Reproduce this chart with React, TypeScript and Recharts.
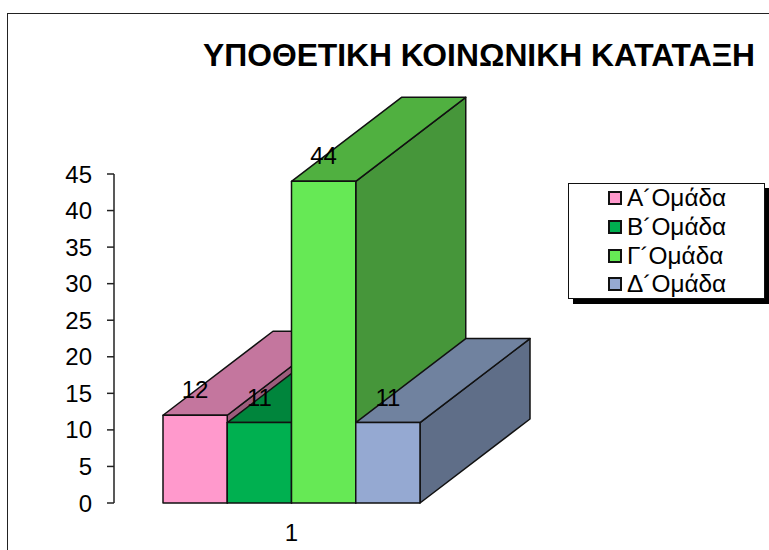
import { Bar, BarChart, LabelList, Legend, XAxis, YAxis } from "recharts";

const categories = ["1"];
const seriesNames = ["Α´Ομάδα", "Β´Ομάδα", "Γ´Ομάδα", "Δ´Ομάδα"];
const groupA = [12];
const groupB = [11];
const groupC = [44];
const groupD = [11];
const yTicks = [0, 5, 10, 15, 20, 25, 30, 35, 40, 45];
const title = "ΥΠΟΘΕΤΙΚΗ ΚΟΙΝΩΝΙΚΗ ΚΑΤΑΤΑΞΗ";

const fronts = ["#ff99cc", "#00b050", "#66e955", "#95a9d2"];
const tops = ["#c4769e", "#00853c", "#50b040", "#70829f"];
const sides = ["#9c5c7c", "#006a30", "#46963a", "#5f6e88"];

const table = categories.map((name, i) => ({
  name,
  a: groupA[i],
  b: groupB[i],
  c: groupC[i],
  d: groupD[i],
}));

const FONT = '"Liberation Sans", Arial, sans-serif';
const INK = "#111";
const DEPTH_X = 110;
const DEPTH_Y = 84;

const box3D = (index: number) => (props: any) => {
  const { x, y, width, height } = props;
  const r = x + width;
  const b = y + height;
  const dx = DEPTH_X;
  const dy = DEPTH_Y;
  return (
    <g stroke={INK} strokeWidth={1.5} strokeLinejoin="round">
      <polygon points={`${r},${y} ${r + dx},${y - dy} ${r + dx},${b - dy} ${r},${b}`} fill={sides[index]} />
      <polygon points={`${x},${y} ${x + dx},${y - dy} ${r + dx},${y - dy} ${r},${y}`} fill={tops[index]} />
      <rect x={x} y={y} width={width} height={height} fill={fronts[index]} />
    </g>
  );
};

const LegendBox = ({ payload }: any) => (
  <div
    style={{
      width: 197,
      height: 116,
      boxSizing: "border-box",
      background: "#fff",
      border: `1.5px solid ${INK}`,
      boxShadow: "5px 5px 0 #000",
      paddingLeft: 39,
      paddingTop: 0,
      fontFamily: FONT,
      fontSize: 24.4,
      color: "#000",
    }}
  >
    {(payload || []).map((item: any, i: number) => (
      <div key={item.value} style={{ display: "flex", alignItems: "center", height: 28.7 }}>
        <span
          style={{
            width: 14,
            height: 14,
            boxSizing: "border-box",
            border: `2px solid ${INK}`,
            background: fronts[i],
            marginRight: 5,
          }}
        />
        {item.value}
      </div>
    ))}
  </div>
);

export default function App() {
  const labelStyle = { fontFamily: FONT, fontSize: 24, fill: "#000" };
  return (
    <div style={{ position: "absolute", left: 0, top: 0, width: 769, height: 550, overflow: "hidden", background: "#fff" }}>
      <div
        style={{
          position: "absolute",
          left: 7,
          top: 13,
          width: 770,
          height: 540,
          border: "1.5px solid #222",
        }}
      />
      <BarChart
        width={769}
        height={550}
        data={table}
        margin={{ top: 174, right: 300, bottom: 0, left: 0 }}
        barSize={64.25}
        barGap={0}
      >
        <text x={203} y={66} fontFamily={FONT} fontSize={31.8} fontWeight="bold" fill="#000">
          {title}
        </text>
        <XAxis
          dataKey="name"
          axisLine={false}
          tickLine={false}
          height={47}
          tickMargin={15}
          tick={{ fontFamily: FONT, fontSize: 24, fill: "#000" }}
        />
        <YAxis
          width={114}
          domain={[0, 45]}
          ticks={yTicks}
          interval={0}
          tickSize={7}
          tickMargin={15}
          axisLine={{ stroke: "#222", strokeWidth: 1.5 }}
          tickLine={{ stroke: "#222", strokeWidth: 1.5 }}
          tick={{ fontFamily: FONT, fontSize: 24, fill: "#000" }}
        />
        <Legend
          layout="vertical"
          align="center"
          verticalAlign="middle"
          wrapperStyle={{ left: 568, top: 183, width: 200 }}
          content={<LegendBox />}
        />
        {(["a", "b", "c", "d"] as const).map((key, i) => (
          <Bar
            key={key}
            dataKey={key}
            name={seriesNames[i]}
            fill={fronts[i]}
            shape={box3D(i)}
            isAnimationActive={false}
          >
            <LabelList dataKey={key} position="top" offset={17} style={labelStyle} />
          </Bar>
        ))}
      </BarChart>
    </div>
  );
}
